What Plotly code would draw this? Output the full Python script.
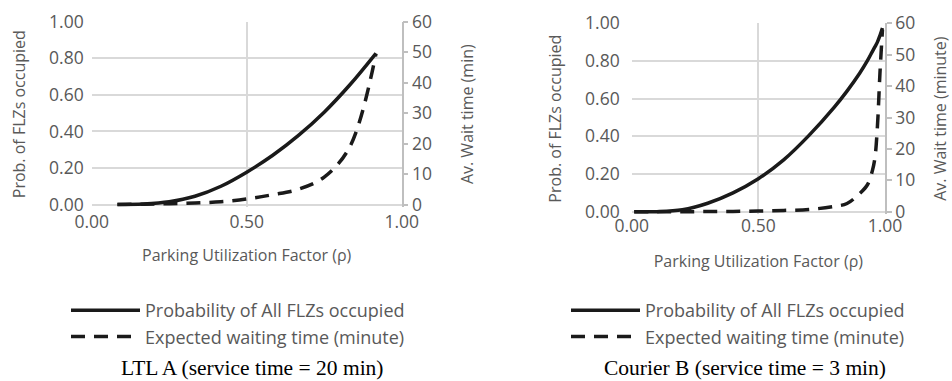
import plotly.graph_objects as go

# ---------------- data ----------------
rho_a = [0.083, 0.167, 0.25, 0.333, 0.417, 0.5, 0.583, 0.667, 0.75, 0.833, 0.917]
prob_a = [0.0, 0.003, 0.015, 0.045, 0.10, 0.177, 0.268, 0.378, 0.505, 0.655, 0.827]
wait_a = [0.0, 0.1, 0.25, 0.5, 0.9, 1.8, 3.2, 5.0, 9.0, 19.0, 49.5]

rho_b = [0.01, 0.1, 0.2, 0.3, 0.4, 0.5, 0.6, 0.7, 0.8, 0.85, 0.9, 0.93, 0.95, 0.96, 0.97, 0.98, 0.99]
prob_b = [0.0, 0.0, 0.01, 0.045, 0.10, 0.175, 0.275, 0.405, 0.555, 0.64, 0.735, 0.80, 0.85, 0.875, 0.90, 0.935, 0.975]
wait_b = [0.0, 0.0, 0.0, 0.05, 0.1, 0.2, 0.4, 0.7, 1.7, 2.6, 5.8, 8.5, 13.0, 17.0, 27.0, 44.0, 58.0]

x_ticks = [0.0, 0.5, 1.0]
p_ticks = [0.0, 0.2, 0.4, 0.6, 0.8, 1.0]
w_ticks = [0, 10, 20, 30, 40, 50, 60]

name_prob = "Probability of All FLZs occupied"
name_wait = "Expected waiting time (minute)"
title_a = "LTL A (service time = 20 min)"
title_b = "Courier B (service time = 3 min)"
x_title = "Parking Utilization Factor (ρ)"
y_title = "Prob. of FLZs occupied"
y2_title_a = "Av. Wait time (min)"
y2_title_b = "Av. Wait time (minute)"

# ---------------- styling ----------------
W, H = 952, 381
INK = "#1a1a1a"
GRAY_TXT = "#595959"
GRID = "#d9d9d9"
AXLINE = "#bfbfbf"
TICK_FONT = dict(family="Open Sans", size=17.5, color=GRAY_TXT)
TITLE_FONT = dict(family="Open Sans", size=16, color=GRAY_TXT)
LEG_FONT = dict(family="Open Sans", size=18, color=GRAY_TXT)
DASH = "14px,9px"

def px_x(v):
    return v / W

def px_y(v):
    return 1 - v / H

fig = go.Figure()
fig.add_trace(go.Scatter(x=rho_a, y=prob_a, name=name_prob, mode="lines",
                         line=dict(color=INK, width=3.5, shape="spline"),
                         xaxis="x", yaxis="y", legend="legend"))
fig.add_trace(go.Scatter(x=rho_a, y=wait_a, name=name_wait, mode="lines",
                         line=dict(color=INK, width=3.5, dash=DASH, shape="spline"),
                         xaxis="x", yaxis="y2", legend="legend"))
fig.add_trace(go.Scatter(x=rho_b, y=prob_b, name=name_prob, mode="lines",
                         line=dict(color=INK, width=3.5, shape="spline"),
                         xaxis="x2", yaxis="y3", legend="legend2"))
fig.add_trace(go.Scatter(x=rho_b, y=wait_b, name=name_wait, mode="lines",
                         line=dict(color=INK, width=3.5, dash=DASH, shape="spline"),
                         xaxis="x2", yaxis="y4", legend="legend2"))

PAD = 0.012  # keeps zero-level lines from being clipped

def xax(domain, anchor, lab_off, title_off):
    return dict(domain=domain, anchor=anchor, range=[0, 1], tickvals=x_ticks,
                tickformat=".2f", showgrid=True, gridcolor=GRID, gridwidth=1.5,
                zeroline=False, showline=False, ticks="", tickfont=TICK_FONT,
                ticklabelstandoff=lab_off, automargin=False,
                title=dict(text=x_title, font=TITLE_FONT, standoff=title_off))

def yax_left(domain, anchor, lab_off, title_off):
    return dict(domain=domain, anchor=anchor, range=[-PAD, 1.0], tickvals=p_ticks,
                tickformat=".2f", showgrid=True, gridcolor=GRID, gridwidth=1.5,
                zeroline=False, showline=False, ticks="", tickfont=TICK_FONT,
                ticklabelstandoff=lab_off, automargin=False,
                title=dict(text=y_title, font=TITLE_FONT, standoff=title_off))

def yax_right(over, anchor, title, title_off):
    return dict(overlaying=over, anchor=anchor, side="right", range=[-PAD * 60, 60],
                tickvals=w_ticks, showgrid=False, zeroline=False, showline=True,
                linecolor=AXLINE, linewidth=1.5, ticks="outside", ticklen=5,
                tickcolor=AXLINE, tickwidth=1.5, tickfont=TICK_FONT,
                automargin=False,
                title=dict(text=title, font=TITLE_FONT, standoff=title_off))

# pixel geometry of the two plot areas
A_L, A_R, A_T, A_B = 91.7, 401.7, 21.7, 204.5
B_L, B_R, B_T, B_B = 631.7, 885.0, 23.3, 211.7
A_B2 = A_B + (A_B - A_T) * PAD
B_B2 = B_B + (B_B - B_T) * PAD

fig.update_layout(
    width=W, height=H,
    margin=dict(l=0, r=0, t=0, b=0, pad=0, autoexpand=False),
    paper_bgcolor="white", plot_bgcolor="white",
    xaxis=xax([px_x(A_L), px_x(A_R)], "y", 3, 17),
    yaxis=yax_left([px_y(A_B2), px_y(A_T)], "x", 7, 19),
    yaxis2=yax_right("y", "x", y2_title_a, 31),
    xaxis2=xax([px_x(B_L), px_x(B_R)], "y3", 0, 19),
    yaxis3=yax_left([px_y(B_B2), px_y(B_T)], "x2", 11, 19),
    yaxis4=yax_right("y3", "x2", y2_title_b, 21),
    legend=dict(x=px_x(66), y=px_y(292), xanchor="left", yanchor="top",
                font=LEG_FONT, itemwidth=69, bgcolor="rgba(0,0,0,0)",
                tracegroupgap=0),
    legend2=dict(x=px_x(566), y=px_y(292), xanchor="left", yanchor="top",
                 font=LEG_FONT, itemwidth=69, bgcolor="rgba(0,0,0,0)",
                 tracegroupgap=0),
    showlegend=True,
    annotations=[
        dict(text=title_a, x=px_x(252), y=px_y(368), xref="paper", yref="paper",
             showarrow=False, xanchor="center", yanchor="middle",
             font=dict(family="Liberation Serif", size=21.5, color="black")),
        dict(text=title_b, x=px_x(745), y=px_y(368), xref="paper", yref="paper",
             showarrow=False, xanchor="center", yanchor="middle",
             font=dict(family="Liberation Serif", size=21.5, color="black")),
    ],
)

fig.write_html("out.html", config={"displayModeBar": False},
               post_script="document.body.style.margin='0';")
